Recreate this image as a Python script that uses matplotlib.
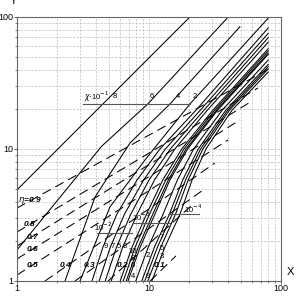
import matplotlib
matplotlib.use('Agg')
import matplotlib.pyplot as plt
import matplotlib.ticker as mticker

plt.rcParams['font.family'] = ['Liberation Sans', 'DejaVu Sans']

# chi * 10^-1 family, nearly straight
chi1_labels = ['8', '6', '4', '2']
chi1_x = [[1, 20.4],
          [1, 4.38, 9.78, 39.8],
          [2.31, 3.90, 7.18, 14.4, 48.8],
          [3.0, 5.06, 9.33, 20.4, 80]]
chi1_y = [[4.9, 100],
          [1.72, 10.5, 21.9, 100],
          [1, 4.33, 11.1, 21.9, 84.3],
          [1, 3.64, 8.27, 21.9, 98]]

# steep families, x read at these y levels, then the end value at x=80
level_y = [1, 1.81, 3.22, 5.82, 10, 19.7]

chi2_labels = ['9', '7', '5', '3']
chi2_x = [[3.70, 4.48, 5.72, 8.11, 12.1, 22.7, 80],
          [4.19, 5.10, 6.53, 9.10, 13.3, 24.5, 80],
          [4.66, 5.68, 7.29, 10.0, 14.5, 26.1, 80],
          [5.17, 6.33, 8.14, 11.0, 15.7, 27.7, 80]]
chi2_yend = [82.5, 75.2, 69.7, 64.5]

chi3_labels = ['10', '8', '6', '4', '2']
chi3_x = [[6.05, 7.45, 9.59, 12.7, 17.7, 30.5, 80],
          [6.38, 7.86, 10.1, 13.4, 18.4, 31.5, 80],
          [6.72, 8.30, 10.7, 14.0, 19.1, 32.5, 80],
          [6.93, 8.58, 11.1, 14.4, 19.6, 33.1, 80],
          [7.94, 9.88, 12.8, 16.4, 21.8, 35.9, 80]]
chi3_yend = [57.5, 55.4, 53.3, 52.1, 47.2]

chi4_labels = ['9', '7', '5', '3']
chi4_x = [[8.82, 11.0, 14.3, 18.0, 23.6, 38.2, 80],
          [9.29, 11.6, 15.0, 18.9, 24.6, 39.5, 80],
          [9.79, 12.3, 15.9, 19.8, 25.6, 40.7, 80],
          [10.5, 13.2, 17.2, 21.2, 27.0, 42.6, 80]]
chi4_yend = [43.7, 42.0, 40.4, 38.3]

# eta lines (dashed)
eta_labels = ['0.9', '0.8', '0.7', '0.6', '0.5', '0.4', '0.3', '0.2', '0.1']
eta_x0 = [1, 1, 1, 1, 1, 1.63, 2.75, 4.89, 10.2]
eta_y0 = [3.57, 2.35, 1.84, 1.47, 1.11, 1, 1, 1, 1]
eta_x1 = [78.3, 66.9, 60.3, 48.9, 39.7, 31.6, 25.7, 21.2, 16.0]
eta_y1 = [39.7, 29.0, 23.1, 16.6, 11.7, 7.83, 4.89, 3.77, 1.55]

# horizontal key lines: x start, x end, y
key_x0 = [3.16, 4.04, 7.55, 13.9]
key_x1 = [20.4, 7.43, 14.4, 23.9]
key_y = [21.9, 2.31, 2.75, 3.22]

fig = plt.figure(figsize=(2.96, 2.96), dpi=100)
ax = fig.add_axes([17/296, 15/296, 264/296, 264/296])
ax.set_xscale('log')
ax.set_yscale('log')
ax.set_xlim(1, 100)
ax.set_ylim(1, 100)

ax.grid(True, which='both', color='#b8b8b8', linestyle=(0, (3, 2)), linewidth=0.5)
ax.set_axisbelow(True)

lw = 0.75
for xs, ys in zip(chi1_x, chi1_y):
    ax.plot(xs, ys, color='black', lw=lw)
for fam_x, fam_end in [(chi2_x, chi2_yend), (chi3_x, chi3_yend), (chi4_x, chi4_yend)]:
    for xs, ye in zip(fam_x, fam_end):
        ax.plot(xs, level_y + [ye], color='black', lw=lw)

for a, b, c, d in zip(eta_x0, eta_y0, eta_x1, eta_y1):
    ax.plot([a, c], [b, d], color='black', lw=lw, linestyle=(0, (9, 5)))

for a, b, c in zip(key_x0, key_x1, key_y):
    ax.plot([a, b], [c, c], color='#555555', lw=0.8)

small = dict(fontsize=5.5, ha='center', va='center')
ax.text(4.04, 24.8, r'$\chi$$\cdot$10$^{-1}$', **small)
for t, x in zip(chi1_labels, [5.52, 10.5, 16.6, 22.3]):
    ax.text(x, 24.8, t, **small)
ax.text(4.48, 2.56, '10$^{-2}$', **small)
ax.text(8.67, 3.05, '10$^{-3}$', **small)
ax.text(21.5, 3.51, '10$^{-4}$', **small)
for t, x in zip(chi2_labels, [4.72, 5.34, 5.92, 6.57]):
    ax.text(x, 1.81, t, **small)
for t, x, y in zip(chi3_labels, [7.56, 7.56, 7.56, 7.56, 9.71], [1.67, 1.49, 1.30, 1.09, 1.55]):
    ax.text(x, y, t, **small)
for t, x, y in zip(chi4_labels, [9.71, 12.5, 12.5, 12.5], [1.08, 2.12, 1.77, 1.53]):
    ax.text(x, y, t, **small)

bold = dict(fontsize=6, ha='center', va='center', fontweight='bold', fontstyle='italic')
eta_pos = [(1.25, 4.04), (1.25, 2.66), (1.32, 2.15), (1.32, 1.72), (1.32, 1.30),
           (2.31, 1.30), (3.57, 1.30), (6.25, 1.30), (12.1, 1.30)]
for t, (x, y) in zip(eta_labels, eta_pos):
    if t == '0.9':
        t = r'$\eta$=0.9'
    ax.text(x, y, t, **bold)

ax.xaxis.set_major_formatter(mticker.FuncFormatter(lambda v, p: '%g' % v))
ax.yaxis.set_major_formatter(mticker.FuncFormatter(lambda v, p: '%g' % v))
ax.xaxis.set_minor_formatter(mticker.NullFormatter())
ax.yaxis.set_minor_formatter(mticker.NullFormatter())
ax.tick_params(which='major', length=2, width=0.6, labelsize=6.5, pad=0.5, color='#444444')
ax.tick_params(which='minor', length=1.5, width=0.5, color='#444444')
for s in ax.spines.values():
    s.set_color('#666666')
    s.set_linewidth(0.8)

fig.text(13/296, 0.995, 'Y', fontsize=8, ha='center', va='center')
fig.text(290/296, 1 - 272/296, 'X', fontsize=8, ha='center', va='center')

fig.savefig('out.png', dpi=100)
